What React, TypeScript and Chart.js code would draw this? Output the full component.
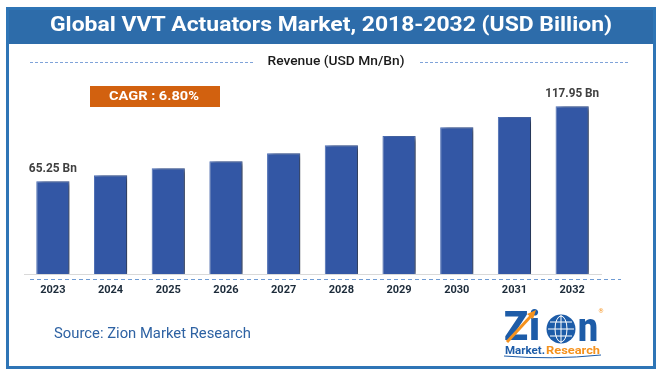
import React, { useEffect, useRef } from "react";
import { Chart, registerables } from "chart.js";

Chart.register(...registerables);

const years = ["2023", "2024", "2025", "2026", "2027", "2028", "2029", "2030", "2031", "2032"];
const revenue = [65.25, 69.4, 74.3, 79.2, 84.9, 90.5, 97.0, 103.1, 110.4, 117.95];
const labelledIdx = [0, 9];
const valueLabels = ["65.25 Bn", "117.95 Bn"];
const titleText = "Global VVT Actuators Market, 2018-2032 (USD Billion)";
const legendText = "Revenue (USD Mn/Bn)";
const cagrText = "CAGR : 6.80%";
const sourceText = "Source: Zion Market Research";

const FONT = "Roboto, 'Open Sans', sans-serif";

function fitText(
  ctx: CanvasRenderingContext2D,
  text: string,
  x: number,
  y: number,
  font: string,
  color: string,
  width: number,
  align: "center" | "left" | "right" = "center"
) {
  ctx.save();
  ctx.font = font;
  ctx.fillStyle = color;
  ctx.textBaseline = "middle";
  ctx.textAlign = "left";
  const w = ctx.measureText(text).width;
  const s = width ? width / w : 1;
  const left = align === "center" ? x - (w * s) / 2 : align === "left" ? x : x - w * s;
  ctx.translate(left, y);
  ctx.scale(s, 1);
  ctx.fillText(text, 0, 0);
  ctx.restore();
}

function dashed(ctx: CanvasRenderingContext2D, x1: number, x2: number, y: number, color: string, dash: number[]) {
  ctx.save();
  ctx.strokeStyle = color;
  ctx.lineWidth = 1;
  ctx.setLineDash(dash);
  ctx.beginPath();
  ctx.moveTo(x1, y);
  ctx.lineTo(x2, y);
  ctx.stroke();
  ctx.restore();
}

function drawLogo(ctx: CanvasRenderingContext2D) {
  const blue = "#1D5CA8";
  const orange = "#F5921E";
  fitText(ctx, "Z", 504, 330, `900 40px ${FONT}`, blue, 24, "left");
  fitText(ctx, "i", 529, 330, `900 40px ${FONT}`, blue, 11, "left");
  // globe
  ctx.save();
  ctx.fillStyle = blue;
  ctx.beginPath();
  ctx.arc(561, 329, 14.5, 0, Math.PI * 2);
  ctx.fill();
  ctx.strokeStyle = "#ffffff";
  ctx.lineWidth = 1;
  ctx.beginPath();
  ctx.ellipse(561, 329, 6, 13, 0, 0, Math.PI * 2);
  ctx.moveTo(548, 329);
  ctx.lineTo(574, 329);
  ctx.moveTo(550, 322);
  ctx.lineTo(572, 322);
  ctx.moveTo(550, 336);
  ctx.lineTo(572, 336);
  ctx.moveTo(561, 315);
  ctx.lineTo(561, 343);
  ctx.stroke();
  ctx.restore();
  fitText(ctx, "n", 578, 331, `900 40px ${FONT}`, blue, 20, "left");
  // arrow
  ctx.save();
  ctx.strokeStyle = orange;
  ctx.fillStyle = orange;
  ctx.lineWidth = 3;
  ctx.beginPath();
  ctx.moveTo(507, 342);
  ctx.lineTo(531, 316);
  ctx.stroke();
  ctx.beginPath();
  ctx.moveTo(536, 310);
  ctx.lineTo(527, 314);
  ctx.lineTo(533, 319);
  ctx.closePath();
  ctx.fill();
  ctx.restore();
  fitText(ctx, "®", 601, 311, `6px ${FONT}`, orange, 5, "center");
  fitText(ctx, "Market.", 505, 351, `bold 11px ${FONT}`, blue, 40, "left");
  fitText(ctx, "Research", 546, 351, `bold 11px ${FONT}`, orange, 54, "left");
  ctx.save();
  ctx.strokeStyle = blue;
  ctx.lineWidth = 1;
  ctx.beginPath();
  ctx.moveTo(504, 356);
  ctx.quadraticCurveTo(552, 360, 601, 355);
  ctx.stroke();
  ctx.restore();
}

const decorPlugin = {
  id: "decor",
  beforeDraw(chart: any) {
    const ctx: CanvasRenderingContext2D = chart.ctx;
    ctx.save();
    ctx.fillStyle = "#ffffff";
    ctx.fillRect(0, 0, chart.width, chart.height);
    // title bar
    ctx.fillStyle = "#2D6CAA";
    ctx.fillRect(6, 7, 650, 37);
    // frame
    ctx.strokeStyle = "#2E75B6";
    ctx.lineWidth = 3;
    ctx.strokeRect(7.5, 8.5, 647, 359);
    ctx.restore();
    fitText(ctx, titleText, 331, 26, `bold 21px ${FONT}`, "#ffffff", 562);
    // legend
    fitText(ctx, legendText, 336, 62, `500 13px ${FONT}`, "#1a1a1a", 137);
    dashed(ctx, 30, 255, 62.5, "#7FA3D9", [3, 2]);
    dashed(ctx, 420, 630, 62.5, "#7FA3D9", [3, 2]);
    // CAGR box
    ctx.save();
    ctx.fillStyle = "#D2610F";
    ctx.fillRect(90, 86, 130, 21);
    ctx.restore();
    fitText(ctx, cagrText, 154, 96.5, `bold 13px ${FONT}`, "#ffffff", 90);
    // source
    fitText(ctx, sourceText, 54, 334, `15px ${FONT}`, "#2E62A3", 197, "left");
    drawLogo(ctx);
  },
  beforeDatasetsDraw(chart: any) {
    const ctx = chart.ctx;
    ctx.save();
    ctx.shadowColor = "rgba(0,0,0,0.6)";
    ctx.shadowOffsetX = 4;
    ctx.shadowOffsetY = 1;
    ctx.shadowBlur = 5;
  },
  afterDatasetsDraw(chart: any) {
    const ctx: CanvasRenderingContext2D = chart.ctx;
    ctx.restore();
    const meta = chart.getDatasetMeta(0);
    labelledIdx.forEach((idx, k) => {
      const el = meta.data[idx];
      const w = k === 0 ? 48 : 54;
      fitText(ctx, valueLabels[k], el.x, el.y - 12, `bold 12px ${FONT}`, "#404040", w);
    });
    dashed(ctx, 30, 621, 279.5, "#6F9BD3", [4, 3]);
  },
};

export default function App() {
  const ref = useRef<HTMLCanvasElement | null>(null);
  useEffect(() => {
    if (!ref.current) return;
    const chart = new Chart(ref.current, {
      type: "bar",
      data: {
        labels: years,
        datasets: [
          {
            label: "Revenue (USD Mn/Bn)",
            data: revenue,
            backgroundColor: "#3357A5",
            borderColor: "#4D6FB6",
            borderWidth: 1,
            categoryPercentage: 1,
            barPercentage: 0.575,
          },
        ],
      },
      options: {
        responsive: false,
        devicePixelRatio: 1,
        animation: false,
        layout: { padding: { left: 24, right: 59, top: 89, bottom: 0 } },
        plugins: {
          legend: { display: false },
          title: { display: false },
          tooltip: { enabled: false },
        },
        scales: {
          x: {
            grid: { display: false, drawTicks: false },
            border: { display: true, color: "#D9D9D9", width: 1 },
            ticks: {
              color: "#1C2B3A",
              font: { family: FONT, size: 11, weight: "bold" },
              padding: 10,
              maxRotation: 0,
            },
            afterFit(scale: any) {
              scale.height = 103;
            },
          },
          y: {
            display: false,
            min: 0,
            max: 130,
          },
        },
      },
      plugins: [decorPlugin],
    });
    return () => chart.destroy();
  }, []);
  return (
    <div style={{ position: "absolute", left: 0, top: 0, width: 660, height: 377 }}>
      <canvas ref={ref} width={660} height={377} style={{ display: "block" }} />
    </div>
  );
}
